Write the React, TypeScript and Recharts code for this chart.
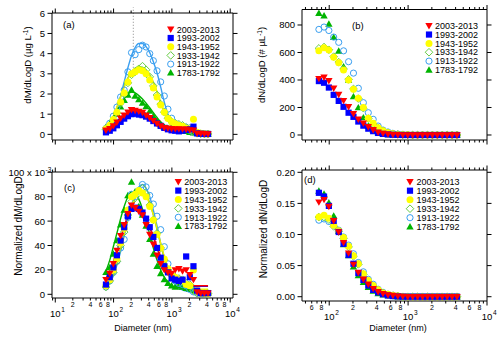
import React from "react";
import { ComposedChart, Scatter, Line, XAxis, YAxis, ReferenceLine } from "recharts";

const FONT = "'Liberation Sans', Arial, Helvetica, sans-serif";
const W = 500;
const H = 337;
const AX = 20;

const periods = ["2003-2013", "1993-2002", "1943-1952", "1933-1942", "1913-1922", "1783-1792"];
const colors = ["#ff0000", "#0000ff", "#ffff00", "#66cc44", "#3a9ff0", "#00b400"];
const lineColors = ["#ff0000", "#0000ff", "#f0f000", "#66cc44", "#3a9ff0", "#00b400"];
const shapes = ["tdown", "square", "dot", "diamond", "ring", "tup"];

const diameters = [74, 86, 99, 114, 132, 152, 176, 203, 234, 271, 313, 361, 417, 481, 556, 642, 741, 856, 989, 1142, 1318, 1522, 1758, 2030, 2344, 2707, 3126, 3610, 4169];

const ticksAC = [9, 10, 20, 30, 40, 50, 60, 70, 80, 90, 100, 200, 300, 400, 500, 600, 700, 800, 900, 1000, 2000, 3000, 4000, 5000, 6000, 7000, 8000, 9000, 10000];
const ticksBD = [50, 60, 70, 80, 90, 100, 200, 300, 400, 500, 600, 700, 800, 900, 1000, 2000, 3000, 4000, 5000, 6000, 7000, 8000, 9000, 10000];

// (a) dM/dLogD, ug/L
const massRed = [0.2, 0.28, 0.42, 0.6, 0.8, 0.95, 1.1, 1.22, 1.18, 1.14, 1.08, 0.95, 0.82, 0.68, 0.54, 0.42, 0.33, 0.3, 0.28, 0.27, 0.27, 0.26, 0.25, 0.22, 0.2, 0.05, 0.04, 0.03, 0.02];
const massBlue = [0.1, 0.18, 0.3, 0.45, 0.62, 0.78, 0.9, 1.0, 1.02, 0.98, 0.95, 0.88, 0.78, 0.66, 0.54, 0.42, 0.32, 0.25, 0.2, 0.18, 0.15, 0.18, 0.22, 0.25, 0.38, 0.05, 0.03, 0.02, 0.02];
const massYellow = [0.28, 0.45, 0.74, 1.1, 1.6, 2.05, 2.6, 3.0, 3.1, 3.2, 3.15, 3.0, 2.7, 2.3, 1.85, 1.45, 1.1, 0.78, 0.62, 0.53, 0.45, 0.4, 0.3, 0.25, 0.75, 0.1, 0.05, 0.03, 0.02];
const massDiamond = [0.25, 0.42, 0.7, 1.05, 1.55, 2.0, 2.55, 2.95, 3.1, 3.25, 3.38, 3.2, 2.85, 2.4, 1.95, 1.5, 1.1, 0.8, 0.62, 0.55, 0.5, 0.45, 0.35, 0.3, 0.1, 0.05, 0.03, 0.02, 0.02];
const massCircle = [0.3, 0.55, 0.9, 1.35, 1.85, 2.2, 3.1, 4.05, 3.95, 4.2, 4.42, 4.33, 4.0, 3.65, 3.15, 2.6, 1.9, 1.25, 0.8, 0.55, 0.45, 0.4, 0.35, 0.2, 0.1, 0.05, 0.03, 0.02, 0.02];
const massTri = [0.36, 0.53, 0.78, 1.02, 1.36, 1.69, 1.95, 2.2, 1.9, 1.72, 1.55, 1.38, 1.15, 0.9, 0.65, 0.48, 0.36, 0.3, 0.25, 0.22, 0.2, 0.18, 0.15, 0.1, 0.08, 0.05, 0.03, 0.02, 0.02];

const fitMassRed = [0.16, 0.28, 0.42, 0.58, 0.75, 0.9, 1.03, 1.12, 1.15, 1.13, 1.08, 1.0, 0.9, 0.77, 0.63, 0.5, 0.4, 0.33, 0.3, 0.28, 0.27, 0.26, 0.25, 0.25, 0.25];
const fitMassBlue = [0.12, 0.22, 0.34, 0.48, 0.63, 0.77, 0.9, 0.98, 1.01, 1.0, 0.96, 0.89, 0.8, 0.69, 0.57, 0.45, 0.36, 0.3, 0.26, 0.24, 0.23, 0.22, 0.22, 0.22, 0.22];
const fitMassYellow = [0.3, 0.55, 0.9, 1.35, 1.85, 2.35, 2.75, 3.0, 3.15, 3.2, 3.2, 3.1, 2.9, 2.55, 2.1, 1.6, 1.1, 0.7, 0.45, 0.3, 0.22, 0.18, 0.15, 0.13, 0.12];
const fitMassDiamond = [0.28, 0.52, 0.88, 1.33, 1.85, 2.38, 2.8, 3.1, 3.28, 3.35, 3.33, 3.2, 2.95, 2.58, 2.1, 1.58, 1.08, 0.68, 0.42, 0.28, 0.2, 0.16, 0.13, 0.12, 0.11];
const fitMassCircle = [0.3, 0.5, 0.8, 1.3, 1.9, 2.6, 3.3, 3.9, 4.3, 4.5, 4.5, 4.35, 4.05, 3.6, 3.05, 2.35, 1.6, 1.0, 0.55, 0.32, 0.2, 0.15, 0.12, 0.1, 0.1];
const fitMassTri = [0.35, 0.58, 0.85, 1.15, 1.48, 1.78, 2.0, 2.1, 2.05, 1.92, 1.75, 1.55, 1.32, 1.08, 0.84, 0.62, 0.45, 0.32, 0.24, 0.19, 0.16, 0.14, 0.13, 0.12, 0.12];

// (b) dN/dLogD, #/uL
const numRed = [410, 420, 395, 340, 295, 250, 205, 155, 115, 85, 60, 38, 20, 12, 6, 3, 2, 1, 0, 0, 0, 0, 0, 0, 0, 0, 0, 0, 0];
const numBlue = [392, 380, 345, 292, 248, 205, 162, 132, 98, 68, 46, 28, 15, 8, 4, 2, 1, 0, 0, 0, 0, 0, 0, 0, 0, 0, 0, 0, 0];
const numYellow = [613, 635, 618, 565, 526, 473, 400, 332, 267, 200, 122, 85, 53, 31, 17, 9, 4, 2, 1, 0, 0, 0, 0, 0, 0, 0, 0, 0, 0];
const numDiamond = [630, 640, 620, 570, 530, 480, 405, 335, 265, 195, 120, 80, 50, 30, 16, 8, 4, 2, 1, 0, 0, 0, 0, 0, 0, 0, 0, 0, 0];
const numCircle = [768, 785, 760, 712, 674, 612, 533, 450, 340, 235, 162, 114, 65, 36, 22, 12, 6, 3, 1, 0, 0, 0, 0, 0, 0, 0, 0, 0, 0];
const numTri = [885, 867, 807, 710, 611, 497, 400, 279, 199, 126, 65, 36, 17, 8, 4, 2, 1, 0, 0, 0, 0, 0, 0, 0, 0, 0, 0, 0, 0];

// (c) normalized dM/dLogD, x 10^-3
const nmRed = [12, 17, 25, 36, 48, 57, 66, 73, 71, 68, 65, 57, 49, 41, 32, 25, 20, 18, 17, 20, 21, 19, 20, 16, 12, 2, 1, 1, 1];
const nmBlue = [8, 14, 22, 32, 44, 55, 64, 70, 71, 70, 67, 62, 55, 47, 38, 30, 23, 18, 13, 12, 11, 12, 31, 14, 23, 3, 1, 1, 1];
const nmYellow = [7, 12, 20, 29, 42, 54, 69, 80, 82, 85, 83, 80, 72, 61, 49, 38, 29, 21, 16, 14, 12, 11, 8, 7, 20, 3, 1, 1, 0.5];
const nmDiamond = [6, 11, 18, 27, 40, 51, 65, 76, 79, 83, 87, 82, 73, 61, 50, 38, 28, 20, 16, 14, 13, 12, 9, 8, 3, 1, 1, 0.5, 0.5];
const nmCircle = [6, 11, 18, 27, 38, 45, 63, 82, 80, 85, 90, 88, 81, 74, 64, 53, 39, 25, 16, 11, 9, 8, 7, 4, 2, 1, 0.5, 0.5, 0.5];
const nmTri = [18, 22, 33, 44, 57, 69, 81, 92, 84, 72, 65, 56, 45, 33, 23, 17, 12, 9, 7, 6, 7, 6, 5, 4, 3, 2, 1, 1, 1];

const fitNmRed = [13, 19, 27, 36, 46, 56, 64, 69, 71, 70, 67, 62, 55, 47, 39, 31, 25, 19, 15, 12, 10, 9, 8, 7.5, 7.2, 7, 7, 7, 7];
const fitNmBlue = [11, 17, 25, 35, 45, 55, 63, 69, 71, 70, 67, 62, 55, 47, 38, 30, 23, 17, 13, 10, 8.5, 7.5, 7, 6.8, 6.6, 6.5, 6.5, 6.5, 6.5];
const fitNmYellow = [7, 11, 18, 27, 38, 50, 62, 72, 79, 83, 83, 80, 74, 65, 54, 42, 31, 22, 15, 10, 7, 5.5, 4.8, 4.5, 4.3, 4.2, 4.2, 4.2, 4.2];
const fitNmDiamond = [6, 10, 17, 26, 37, 49, 61, 71, 79, 84, 85, 82, 75, 65, 53, 41, 30, 21, 14, 9.5, 6.5, 5, 4.2, 3.8, 3.6, 3.5, 3.5, 3.5, 3.5];
const fitNmCircle = [5, 9, 15, 24, 35, 48, 61, 73, 82, 88, 90, 87, 80, 69, 56, 42, 30, 20, 13, 8, 5, 3.5, 2.7, 2.3, 2.1, 2, 2, 2, 2];
const fitNmTri = [19, 28, 39, 50, 62, 72, 80, 84, 83, 78, 70, 60, 49, 38, 28, 20, 14, 10, 7, 5.5, 4.5, 4, 3.5, 3.3, 3.2, 3.1, 3, 3, 3];

// (d) normalized dN/dLogD
const nnRed = [0.152, 0.156, 0.145, 0.122, 0.104, 0.087, 0.07, 0.052, 0.039, 0.028, 0.02, 0.013, 0.008, 0.005, 0.003, 0.002, 0.001, 0.0005, 0, 0, 0, 0, 0, 0, 0, 0, 0, 0, 0];
const nnBlue = [0.167, 0.161, 0.146, 0.122, 0.104, 0.085, 0.067, 0.053, 0.038, 0.027, 0.018, 0.011, 0.007, 0.004, 0.002, 0.001, 0.0005, 0, 0, 0, 0, 0, 0, 0, 0, 0, 0, 0, 0];
const nnYellow = [0.128, 0.131, 0.126, 0.115, 0.106, 0.095, 0.081, 0.066, 0.053, 0.037, 0.026, 0.018, 0.011, 0.006, 0.004, 0.002, 0.001, 0, 0, 0, 0, 0, 0, 0, 0, 0, 0, 0, 0];
const nnDiamond = [0.128, 0.128, 0.124, 0.113, 0.105, 0.094, 0.08, 0.065, 0.052, 0.036, 0.025, 0.017, 0.01, 0.006, 0.003, 0.002, 0.001, 0, 0, 0, 0, 0, 0, 0, 0, 0, 0, 0, 0];
const nnCircle = [0.123, 0.125, 0.121, 0.115, 0.107, 0.096, 0.083, 0.069, 0.055, 0.04, 0.028, 0.02, 0.012, 0.007, 0.004, 0.002, 0.001, 0, 0, 0, 0, 0, 0, 0, 0, 0, 0, 0, 0];
const nnTri = [0.17, 0.165, 0.151, 0.13, 0.105, 0.084, 0.066, 0.048, 0.034, 0.023, 0.015, 0.009, 0.005, 0.003, 0.002, 0.001, 0, 0, 0, 0, 0, 0, 0, 0, 0, 0, 0, 0, 0];

const rows = (vals: number[]) => vals.map((v, i) => ({ d: diameters[i], v }));

const panels = [
  {
    key: "a",
    frame: { l: 52, r: 233, t: 13, b: 140 },
    xDomain: [8.79, 11170], xTicks: ticksAC, xLabels: false,
    yDomain: [-0.28, 6.015], yTicks: [0, 1, 2, 3, 4, 5, 6], fmt: (v: number) => String(v),
    series: [massRed, massBlue, massYellow, massDiamond, massCircle, massTri],
    fits: [fitMassRed, fitMassBlue, fitMassYellow, fitMassDiamond, fitMassCircle, fitMassTri],
  },
  {
    key: "b",
    frame: { l: 302, r: 487, t: 9.5, b: 140 },
    xDomain: [45.2, 10000], xTicks: ticksBD, xLabels: false,
    yDomain: [-36.4, 912.7], yTicks: [0, 200, 400, 600, 800], fmt: (v: number) => String(v),
    series: [numRed, numBlue, numYellow, numDiamond, numCircle, numTri],
    fits: [],
  },
  {
    key: "c",
    frame: { l: 52, r: 233, t: 172, b: 298 },
    xDomain: [8.79, 11170], xTicks: ticksAC, xLabels: true,
    yDomain: [-3.03, 100.25], yTicks: [0, 20, 40, 60, 80, 100], fmt: (v: number) => String(v),
    series: [nmRed, nmBlue, nmYellow, nmDiamond, nmCircle, nmTri],
    fits: [fitNmRed, fitNmBlue, fitNmYellow, fitNmDiamond, fitNmCircle, fitNmTri],
  },
  {
    key: "d",
    frame: { l: 302, r: 487, t: 170, b: 301 },
    xDomain: [45.2, 10000], xTicks: ticksBD, xLabels: true,
    yDomain: [-0.0069, 0.2037], yTicks: [0, 0.05, 0.1, 0.15, 0.2], fmt: (v: number) => v.toFixed(2),
    series: [nnRed, nnBlue, nnYellow, nnDiamond, nnCircle, nnTri],
    fits: [],
  },
];

function Mark({ cx, cy, shape, color }: any) {
  if (cx == null || cy == null) return null;
  switch (shape) {
    case "tdown":
      return <polygon points={`${cx - 3.7},${cy - 2.7} ${cx + 3.7},${cy - 2.7} ${cx},${cy + 3.7}`} fill={color} />;
    case "tup":
      return <polygon points={`${cx - 3.7},${cy + 2.7} ${cx + 3.7},${cy + 2.7} ${cx},${cy - 3.7}`} fill={color} />;
    case "square":
      return <rect x={cx - 3.1} y={cy - 3.1} width={6.2} height={6.2} fill={color} />;
    case "dot":
      return <circle cx={cx} cy={cy} r={3.5} fill={color} />;
    case "diamond":
      return <polygon points={`${cx},${cy - 3.8} ${cx + 3.8},${cy} ${cx},${cy + 3.8} ${cx - 3.8},${cy}`} fill="none" stroke={color} strokeWidth={1} />;
    default:
      return <circle cx={cx} cy={cy} r={3.1} fill="none" stroke={color} strokeWidth={1} />;
  }
}

function XTick(props: any) {
  const { x, y, payload, side, labels } = props;
  const v = payload.value;
  const e = Math.floor(Math.log10(v) + 1e-9);
  const m = Math.round(v / Math.pow(10, e));
  const major = m === 1;
  const dir = side === "top" ? -1 : 1;
  return (
    <g>
      <line x1={x} x2={x} y1={y} y2={y + dir * (major ? 4.5 : 2.5)} stroke="#000" strokeWidth={1} />
      {labels && major && (
        <g fontFamily={FONT} fill="#000">
          <text x={x} y={y + 19} fontSize={9.5} textAnchor="middle">10</text>
          <text x={x + 6} y={y + 14} fontSize={6.5}>{e}</text>
        </g>
      )}
      {labels && !major && m % 2 === 0 && (
        <text x={x} y={y + 9.3} fontSize={7} textAnchor="middle" fontFamily={FONT} fill="#000">{m}</text>
      )}
    </g>
  );
}

function YTick(props: any) {
  const { x, y, payload, side, fmt, panel } = props;
  const dir = side === "left" ? -1 : 1;
  const v = payload.value;
  return (
    <g>
      <line x1={x} x2={x + dir * 4.5} y1={y} y2={y} stroke="#000" strokeWidth={1} />
      {side === "left" && panel === "c" && v === 100 ? (
        <g fontFamily={FONT} fill="#000">
          <text x={x - 7} y={y + 3.4} fontSize={9.5} textAnchor="end">100 x 10</text>
          <text x={x - 6.5} y={y - 0.5} fontSize={6.5}>-3</text>
        </g>
      ) : side === "left" ? (
        <text x={x - 7} y={y + 3.4} fontSize={9.5} textAnchor="end" fontFamily={FONT} fill="#000">{fmt(v)}</text>
      ) : null}
    </g>
  );
}

const order = [5, 4, 3, 2, 1, 0];

function Panel({ p }: any) {
  const { l, r, t, b } = p.frame;
  const axisLine = { stroke: "#000", strokeWidth: 1 };
  return (
    <div style={{ position: "absolute", left: 0, top: 0 }}>
      <ComposedChart width={W} height={H} margin={{ left: l - AX, right: W - r - AX, top: t - AX, bottom: H - b - AX }}>
        <XAxis xAxisId="b" orientation="bottom" dataKey="d" type="number" scale="log" domain={p.xDomain} allowDataOverflow ticks={p.xTicks} interval={0} height={AX} tickSize={0} tickMargin={0} tickLine={false} axisLine={axisLine} tick={<XTick side="bottom" labels={p.xLabels} />} />
        <XAxis xAxisId="t" orientation="top" dataKey="d" type="number" scale="log" domain={p.xDomain} allowDataOverflow ticks={p.xTicks} interval={0} height={AX} tickSize={0} tickMargin={0} tickLine={false} axisLine={axisLine} tick={<XTick side="top" labels={false} />} />
        <YAxis yAxisId="l" orientation="left" dataKey="v" type="number" domain={p.yDomain} allowDataOverflow ticks={p.yTicks} interval={0} width={AX} tickSize={0} tickMargin={0} tickLine={false} axisLine={axisLine} tick={<YTick side="left" fmt={p.fmt} panel={p.key} />} />
        <YAxis yAxisId="r" orientation="right" dataKey="v" type="number" domain={p.yDomain} allowDataOverflow ticks={p.yTicks} interval={0} width={AX} tickSize={0} tickMargin={0} tickLine={false} axisLine={axisLine} tick={<YTick side="right" fmt={p.fmt} panel={p.key} />} />
        {p.key === "a" && (
          <ReferenceLine xAxisId="b" yAxisId="l" segment={[{ x: 218, y: 3.3 }, { x: 218, y: 6.3 }]} stroke="#888" strokeDasharray="1 2" ifOverflow="visible" />
        )}
        {order.map((i) => (
          <Scatter key={"s" + i} xAxisId="b" yAxisId="l" data={rows(p.series[i])} dataKey="v" isAnimationActive={false}
            shape={(sp: any) => <Mark cx={sp.cx} cy={sp.cy} shape={shapes[i]} color={colors[i]} />} />
        ))}
        {p.fits.length > 0 && order.map((i) => (
          <Line key={"f" + i} xAxisId="b" yAxisId="l" data={rows(p.fits[i])} dataKey="v" type="monotone" stroke={lineColors[i]} strokeWidth={1.4} dot={false} activeDot={false} isAnimationActive={false} />
        ))}
      </ComposedChart>
    </div>
  );
}

function LegendBox({ x, y, step, gap }: any) {
  return (
    <g>
      {periods.map((name, i) => (
        <g key={name}>
          <Mark cx={x} cy={y + i * step} shape={shapes[i]} color={colors[i]} />
          <text x={x + gap} y={y + i * step + 3.2} fontSize={9} fontFamily={FONT} fill="#000">{name}</text>
        </g>
      ))}
    </g>
  );
}

function Overlay() {
  const txt = { fontFamily: FONT, fill: "#000" };
  return (
    <svg width={W} height={H} style={{ position: "absolute", left: 0, top: 0, pointerEvents: "none" }}>
      <text {...txt} fontSize={9.5} transform="translate(31,65) rotate(-90)" textAnchor="middle">
        dM/dLogD (µg L<tspan dy={-3.5} fontSize={6.5}>-1</tspan><tspan dy={3.5}>)</tspan>
      </text>
      <text {...txt} fontSize={9.5} transform="translate(265,65) rotate(-90)" textAnchor="middle">
        dN/dLogD (# µL<tspan dy={-3.5} fontSize={6.5}>-1</tspan><tspan dy={3.5}>)</tspan>
      </text>
      <text {...txt} fontSize={10} transform="translate(21.5,226) rotate(-90)" textAnchor="middle">Normalized dM/dLogD</text>
      <text {...txt} fontSize={10} transform="translate(266.5,229) rotate(-90)" textAnchor="middle">Normalized dN/dLogD</text>
      <text {...txt} fontSize={9} x={143} y={330.5} textAnchor="middle">Diameter (nm)</text>
      <text {...txt} fontSize={9} x={398} y={330.5} textAnchor="middle">Diameter (nm)</text>
      <text {...txt} fontSize={9.5} x={63} y={27.5}>(a)</text>
      <text {...txt} fontSize={9.5} x={352} y={28.5}>(b)</text>
      <text {...txt} fontSize={9.5} x={64} y={191}>(c)</text>
      <text {...txt} fontSize={9.5} x={304} y={182.5}>(d)</text>
      <LegendBox x={170.7} y={29.3} step={8.7} gap={6} />
      <LegendBox x={429} y={25.7} step={8.85} gap={6} />
      <LegendBox x={178.3} y={181.7} step={8.9} gap={6} />
      <LegendBox x={410} y={181.7} step={9} gap={6.5} />
    </svg>
  );
}

export default function App() {
  return (
    <div style={{ position: "absolute", left: 0, top: 0, width: W, height: H, background: "#fff", fontFamily: FONT }}>
      {panels.map((p) => (
        <Panel key={p.key} p={p} />
      ))}
      <Overlay />
    </div>
  );
}
